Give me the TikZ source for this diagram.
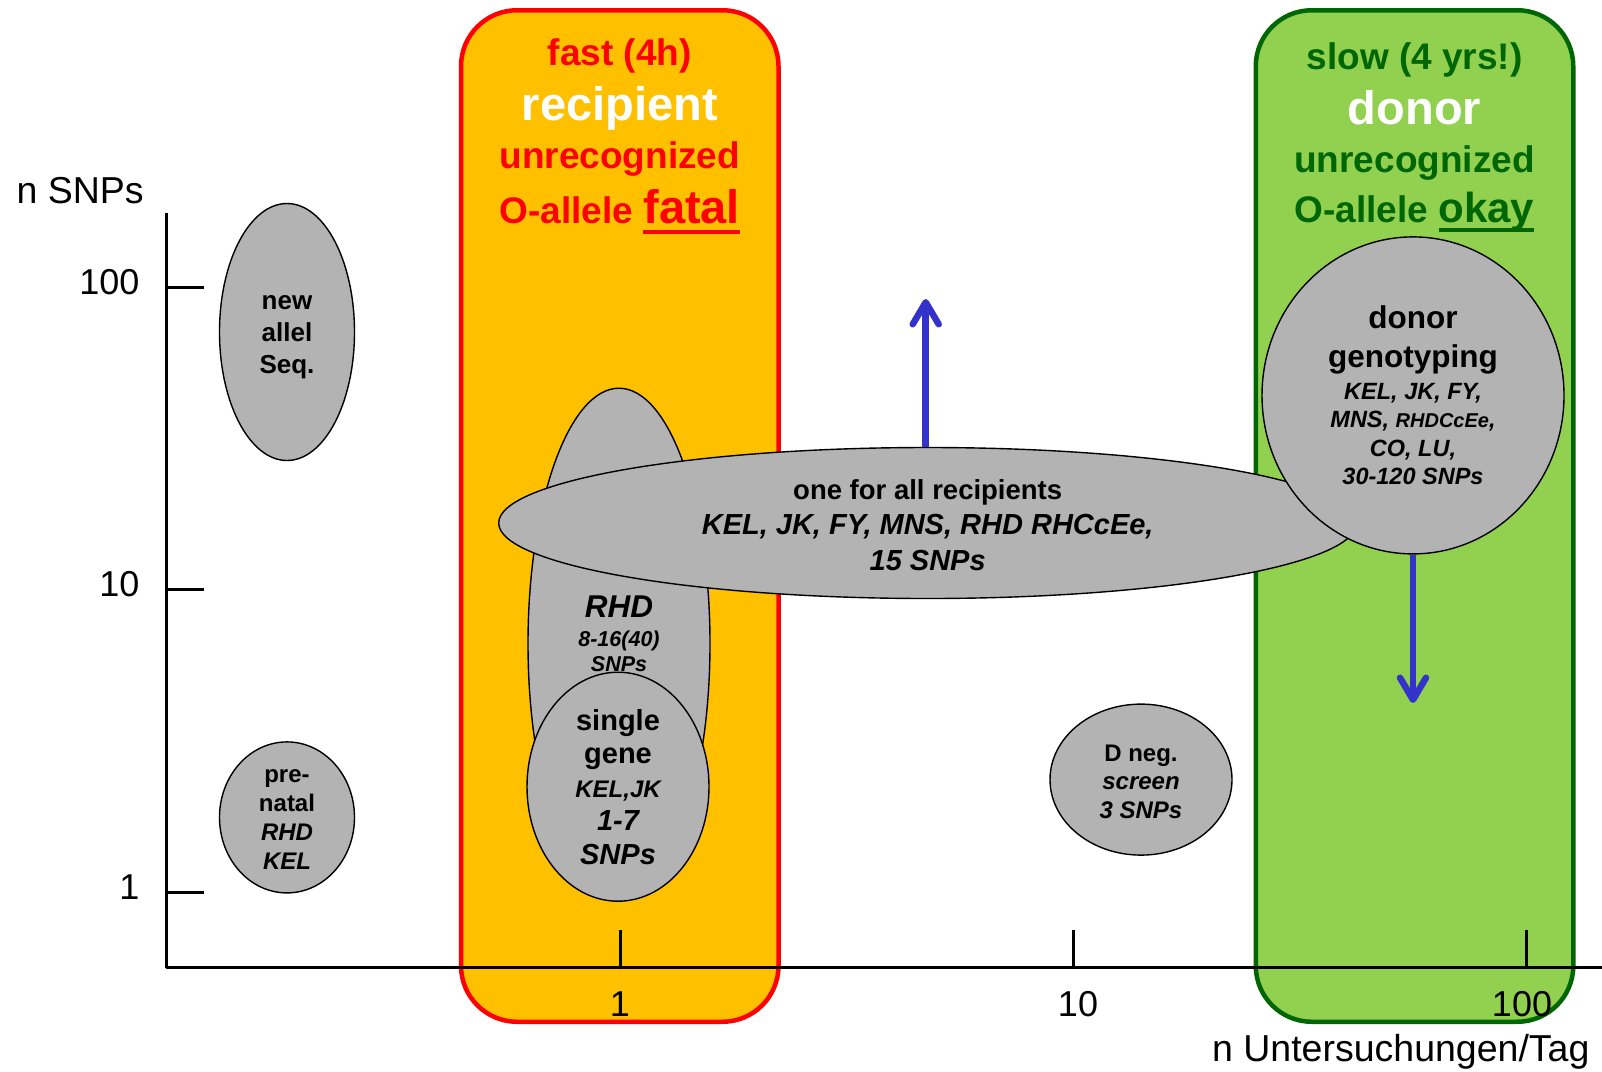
\documentclass[tikz,border=0pt]{standalone}
\usepackage{fontspec}
\setmainfont{Liberation Sans}
\usetikzlibrary{arrows.meta,shapes.geometric}
\definecolor{boxorange}{HTML}{FFC000}
\definecolor{boxred}{HTML}{FF0000}
\definecolor{boxgreen}{HTML}{92D050}
\definecolor{darkgreen}{HTML}{006600}
\definecolor{blobgrey}{HTML}{B3B3B3}
\definecolor{arrowblue}{HTML}{3333CC}
\newcommand{\fsz}[2]{\fontsize{#1}{#2}\selectfont}
\newcommand{\ulword}[2]{\setbox0=\hbox{#2}\rlap{\rule[#1]{\wd0}{3.6pt}}\box0}
\tikzset{
    every picture/.style={line cap=round,line join=round},
    speedbox/.style={rounded corners=56pt,line width=4.5pt,
      minimum width=317.5pt,minimum height=1011.5pt,inner sep=0pt},
    blob/.style={ellipse,draw=black,fill=blobgrey,line width=1.4pt,
      inner sep=0pt,align=center},
    axisline/.style={line width=3pt,line cap=butt},
    ticklabel/.style={font=\fsz{36}{43}},
    axistitle/.style={font=\fsz{37.5}{44}},
    boxtext/.style={anchor=base,font=\bfseries\fsz{37}{44}},
    bigarrow/.style={-{Straight Barb[length=22pt,width=26pt,round]},
      draw=arrowblue,line width=6.5pt,line cap=butt}
}
\begin{document}
\begin{tikzpicture}[x=1pt,y=-1pt]
  \useasboundingbox (0,0) rectangle (1602,1071);
  \node[speedbox,draw=boxred,fill=boxorange] (fastbox) at (619.75,516) {};
  \node[speedbox,draw=darkgreen,fill=boxgreen] (slowbox) at (1414.5,516) {};
  \node[boxtext,text=boxred] (fast) at (619.75,65) {fast (4h)};
  \node[boxtext,text=white,font=\bfseries\fsz{47}{56}] (recipient) at (619.75,120.5) {recipient};
  \node[boxtext,text=boxred] (unrecA) at (619.75,168.5) {unrecognized};
  \node[boxtext,text=boxred] (fatal) at (619.75,223.5) {O-allele {\fsz{47}{56}\ulword{-10.5pt}{fatal}}};
  \node[boxtext,text=darkgreen] (slow) at (1414.5,69.5) {slow (4 yrs!)};
  \node[boxtext,text=white,font=\bfseries\fsz{47}{56}] (donortitle) at (1414.5,124.5) {donor};
  \node[boxtext,text=darkgreen] (unrecB) at (1414.5,172) {unrecognized};
  \node[boxtext,text=darkgreen] (okay) at (1414.5,222) {O-allele {\fsz{42}{50}\ulword{-10pt}{okay}}};
  \coordinate (ytop) at (166.5,212.5);
  \coordinate (origin) at (166.5,967.5);
  \coordinate (xend) at (1602,967.5);
  \draw[axisline] (ytop) -- (origin) -- (xend);
  \foreach \v/\y in {100/287,10/589.5,1/892}{
    \draw[axisline] (166.5,\y) -- (204,\y);
    \node[ticklabel,anchor=east] (yl\v) at (143,\y-5) {\v};}
  \foreach \v/\x/\lx in {1/620/620,10/1073/1078,100/1526.5/1522}{
    \draw[axisline] (\x,930) -- (\x,967.5);
    \node[ticklabel] (xl\v) at (\lx,1004) {\v};}
  \node[axistitle,anchor=base west] (ytitle) at (13,203) {n SNPs};
  \node[axistitle,anchor=base east] (xtitle) at (1593,1061.5) {n Untersuchungen/Tag};
  \coordinate (uptip) at (925.7,299);
  \coordinate (downtip) at (1413,703);
  \node[blob,minimum width=135pt,minimum height=257pt,font=\bfseries\fsz{26}{31.7}] (newallel) at (287,332) {\rule{0pt}{24pt}new\\allel\\Seq.};
  \node[blob,minimum width=135pt,minimum height=151pt,font=\bfseries\fsz{24}{29}] (prenatal) at (287,817.4) {\rule{0pt}{17pt}pre-\\natal\\\textit{RHD}\\\textit{KEL}};
  \node[blob,minimum width=182pt,minimum height=511pt] (rhd) at (619,643.7) {};
  \node[align=center,inner sep=0pt,font=\bfseries\itshape\fsz{21.5}{25.5}] (rhdtext) at (619,634) {{\fsz{31.5}{25.5}RHD}\\[3.5pt]8-16(40)\\SNPs};
  \node[blob,minimum width=182pt,minimum height=229pt,font=\bfseries\fsz{29}{33.5}] (single) at (618,786.7) {single\\gene\\{\itshape\fsz{24}{33.5}KEL,JK}\\\itshape 1-7\\\itshape SNPs};
  \node[blob,minimum width=858pt,minimum height=151pt,font=\bfseries\fsz{29}{35.5}] (oneforall) at (927.7,523) {{\fsz{27.5}{35.5}\rule{0pt}{24pt}one for all recipients}\\\itshape KEL, JK, FY, MNS, RHD RHCcEe,\\\itshape 15 SNPs};
  \node[blob,minimum width=302pt,minimum height=317pt,font=\bfseries\fsz{31.5}{28.5}] (donor) at (1413,395.4) {donor\\[11pt]genotyping\\[3pt]{\itshape\fsz{23.5}{28.5}KEL, JK, FY,}\\{\itshape\fsz{23.5}{28.5}MNS, {\fsz{20}{28.5}RHDCcEe},}\\{\itshape\fsz{23.5}{28.5}CO, LU,}\\{\itshape\fsz{23.5}{28.5}30-120 SNPs}};
  \node[blob,minimum width=182pt,minimum height=151pt,font=\bfseries\fsz{24}{28.5}] (dneg) at (1141,779.6) {\rule{0pt}{21pt}D neg.\\\itshape screen\\\itshape 3 SNPs};
  \draw[bigarrow] (uptip |- oneforall.north) -- (uptip);
  \draw[bigarrow] (donor.south) -- (downtip);
\end{tikzpicture}
\end{document}
